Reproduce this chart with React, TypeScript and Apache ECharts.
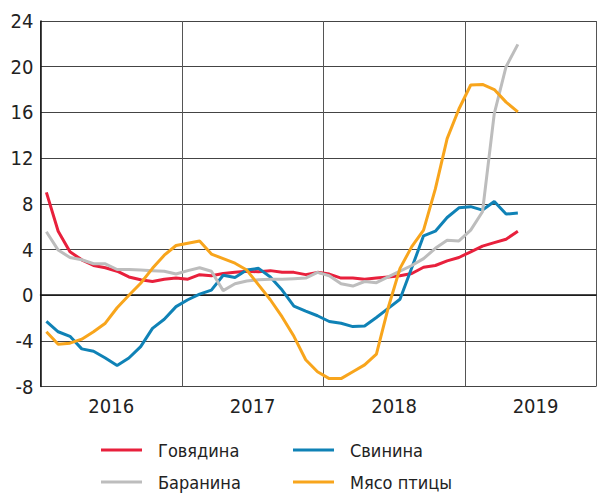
import React, { useEffect, useRef } from "react";
import * as echarts from "echarts";

const startYear = 2016;
const yTicks = { min: -8, max: 24, interval: 4 };

const beef = [9.0, 5.6, 3.8, 3.1, 2.6, 2.4, 2.1, 1.6, 1.35, 1.2, 1.4, 1.5, 1.4, 1.8, 1.7, 1.9, 2.0, 2.1, 2.05, 2.15, 2.0, 2.0, 1.8, 2.0, 1.85, 1.5, 1.5, 1.4, 1.5, 1.6, 1.7, 1.9, 2.45, 2.6, 3.0, 3.3, 3.8, 4.3, 4.6, 4.9, 5.6];
const pork = [-2.3, -3.2, -3.6, -4.7, -4.9, -5.5, -6.15, -5.5, -4.5, -2.9, -2.1, -1.0, -0.4, 0.1, 0.45, 1.75, 1.55, 2.2, 2.35, 1.6, 0.45, -0.95, -1.4, -1.8, -2.3, -2.45, -2.75, -2.7, -1.95, -1.15, -0.35, 2.4, 5.2, 5.6, 6.8, 7.65, 7.75, 7.45, 8.2, 7.1, 7.2];
const lamb = [5.55, 3.95, 3.3, 3.1, 2.75, 2.75, 2.25, 2.25, 2.2, 2.15, 2.1, 1.85, 2.15, 2.4, 2.1, 0.4, 1.0, 1.25, 1.35, 1.4, 1.4, 1.45, 1.5, 2.0, 1.7, 1.0, 0.8, 1.2, 1.1, 1.6, 2.1, 2.6, 3.2, 4.1, 4.8, 4.75, 5.7, 7.3, 15.9, 20.0, 21.95];
const poultry = [-3.2, -4.3, -4.2, -3.85, -3.2, -2.45, -1.1, 0.0, 1.05, 2.35, 3.5, 4.35, 4.55, 4.75, 3.6, 3.2, 2.8, 2.2, 0.9, -0.4, -1.9, -3.6, -5.65, -6.7, -7.3, -7.3, -6.7, -6.1, -5.15, -1.1, 2.35, 4.25, 5.7, 9.3, 13.7, 16.3, 18.4, 18.45, 18.0, 16.9, 16.05];

const seriesNames = ["Говядина", "Свинина", "Баранина", "Мясо птицы"];
const seriesColors = ["#e8203c", "#0f82b6", "#bdbdbd", "#f8a51c"];
const seriesValues = [beef, pork, lamb, poultry];

const FONT = "'Liberation Sans Narrow', 'DejaVu Sans Condensed', sans-serif";
const X_MAX = 47.13;

export default function App() {
  const ref = useRef<HTMLDivElement>(null);
  useEffect(() => {
    if (!ref.current) return;
    const chart = echarts.init(ref.current, null, { renderer: "svg" });
    const toPoints = (arr: number[]) => arr.map((v, i) => [i + 0.5, v]);
    const legendBase = {
      orient: "vertical",
      top: 440,
      height: 53,
      icon: "rect",
      itemWidth: 41,
      itemHeight: 3,
      itemGap: 12,
      padding: 0,
      textStyle: { fontFamily: FONT, fontSize: 18, color: "#222", lineHeight: 20, padding: [0, 0, 0, 11] },
    };
    chart.setOption({
      animation: false,
      textStyle: { fontFamily: FONT },
      grid: { left: 40.5, right: 0, top: 21, bottom: 106.4, containLabel: false },
      xAxis: [
        {
          type: "value",
          min: 0,
          max: X_MAX,
          interval: 12,
          axisLine: { show: true, lineStyle: { color: "#111", width: 1.5 } },
          axisTick: { show: false },
          axisLabel: { show: false },
          splitLine: { show: true, lineStyle: { color: "#555", width: 1 } },
        },
        {
          type: "value",
          min: 0,
          max: X_MAX,
          interval: 6,
          position: "bottom",
          axisLine: { show: false },
          axisTick: { show: false },
          splitLine: { show: false },
          axisLabel: {
            show: true,
            margin: 9,
            fontFamily: FONT,
            fontSize: 20,
            color: "#222",
            formatter: (v: number) =>
              Math.abs((v % 12) - 6) < 0.01 ? String(startYear + (v - 6) / 12) : "",
          },
        },
      ],
      yAxis: {
        type: "value",
        min: yTicks.min,
        max: yTicks.max,
        interval: yTicks.interval,
        axisLine: { show: true, lineStyle: { color: "#111", width: 1.5 } },
        axisTick: { show: false },
        axisLabel: { fontFamily: FONT, fontSize: 20, color: "#222", margin: 7 },
        splitLine: { show: true, lineStyle: { color: "#444", width: 1 } },
      },
      legend: [
        { ...legendBase, left: 101, data: [seriesNames[0], seriesNames[2]] },
        { ...legendBase, left: 293, data: [seriesNames[1], seriesNames[3]] },
      ],
      series: seriesNames.map((name, k) => ({
        name,
        type: "line",
        xAxisIndex: 0,
        data: toPoints(seriesValues[k]),
        showSymbol: false,
        symbol: "none",
        color: seriesColors[k],
        lineStyle: { color: seriesColors[k], width: 3 },
        z: k === 3 ? 3 : 2,
      })),
    });
    return () => chart.dispose();
  }, []);
  return (
    <div
      ref={ref}
      style={{ position: "fixed", left: 0, top: 0, width: 599, height: 493, background: "#fff" }}
    />
  );
}
